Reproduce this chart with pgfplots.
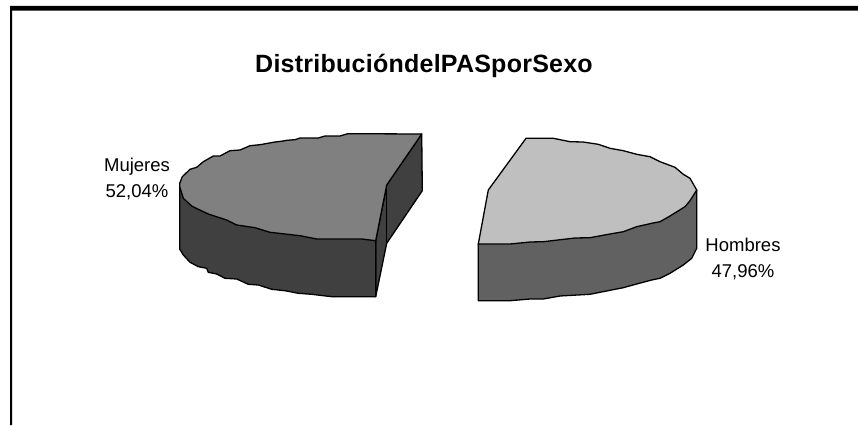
\documentclass[border=0pt]{standalone}
\usepackage{pgfplots}
\usepackage{fontspec}
\setmainfont{Liberation Sans}
\newfontfamily\titlefont[LetterSpace=1]{Liberation Sans}
\pgfplotsset{compat=1.18}
\begin{document}
\begin{tikzpicture}
\begin{axis}[
  scale only axis, width=858pt, height=425pt,
  xmin=0, xmax=858, ymin=0, ymax=425, y dir=reverse,
  hide axis, clip=true]
\path (axis cs:0,0) rectangle (axis cs:858,425);
% frame
\addplot[fill=black, draw=none] coordinates {(10,6) (858,6) (858,10.7) (12,10.7) (12,425) (10,425)} -- cycle;
% left slice cut faces
\addplot[fill=black!75, draw=black, line width=1.3pt, line join=round] coordinates {(386.7,185) (421.7,134) (422.3,190.7) (386.7,243.3) (375.7,296.7) (375.7,240.7)} -- cycle;
\addplot[draw=black, line width=1.3pt] coordinates {(386.7,185) (386.7,243.3)};
% left slice side
\addplot[fill=black!75, draw=black, line width=1.3pt, line join=round] coordinates {(179.7,186) (179.7,249) (183.3,255) (190,262.3) (198.3,266.7) (206.7,268.3) (208.3,272.3) (216.7,274) (225,278.3) (236.7,279) (248.3,284.3) (258.3,285) (271.7,289.3) (285,290.7) (298.3,293.3) (311.7,294.3) (331.7,296.7) (375.7,296.7) (375.7,240.7)} -- cycle;
% left slice top
\addplot[fill=black!50, draw=black, line width=1.3pt, line join=round] coordinates {(421.7,134) (347.7,133.7) (340,136) (325,136) (318.3,138) (300,138) (295,139.7) (286.7,140.3) (283.3,141) (275,142) (260,144.7) (250,145.7) (240,150) (230,150.7) (220,156) (213.3,156) (203.3,161.7) (196.7,167.3) (190,169.3) (182.3,176.7) (179.7,183.3) (179.7,186.7) (183.3,198.3) (191.7,206) (198.3,209.3) (208.3,214) (218.3,217.3) (226.7,220) (236.7,225) (255,227.7) (270,232.3) (285,234) (300,235.7) (316.7,239) (335,239) (361.7,239) (375.7,240.7) (386.7,185)} -- cycle;
% right slice side
\addplot[fill=black!62, draw=black, line width=1.3pt, line join=round] coordinates {(478.3,244) (478.3,300.7) (510,300.7) (530,299) (543.3,299) (560,296) (590,294.3) (610,290.3) (623.3,287.7) (636.7,284) (651.7,280) (660,278.3) (670,273.3) (683.3,265) (691.7,258.3) (696.7,248.3) (696.7,190)} -- cycle;
% right slice top
\addplot[fill=black!25, draw=black, line width=1.3pt, line join=round] coordinates {(478.3,244) (488.3,190) (526,138.3) (553.3,138.3) (570,141.7) (583,142) (598.3,144.3) (610,148.3) (623.3,150.7) (636.7,154.3) (650,156.7) (660,161.7) (675,167.3) (683.3,174.3) (690,178.3) (696.7,190) (690,200.7) (685,206.7) (670,216) (660,221.7) (651.7,223.3) (636.7,226.7) (623.3,231.7) (610,234) (590,237.7) (575,238) (543.3,241.7) (530,242) (510,244)} -- cycle;
% text
\node[font=\titlefont\bfseries\fontsize{25}{28}\selectfont, anchor=base, inner sep=0pt] at (axis cs:424,72.3) {DistribucióndelPASporSexo};
\node[font=\fontsize{18.5}{26}\selectfont, anchor=base, inner sep=0pt] at (axis cs:137,171) {Mujeres};
\node[font=\fontsize{18.5}{26}\selectfont, anchor=base, inner sep=0pt] at (axis cs:137,197) {52,04\%};
\node[font=\fontsize{18.5}{26}\selectfont, anchor=base, inner sep=0pt] at (axis cs:743,251) {Hombres};
\node[font=\fontsize{18.5}{26}\selectfont, anchor=base, inner sep=0pt] at (axis cs:743,277) {47,96\%};
\end{axis}
\end{tikzpicture}
\end{document}
